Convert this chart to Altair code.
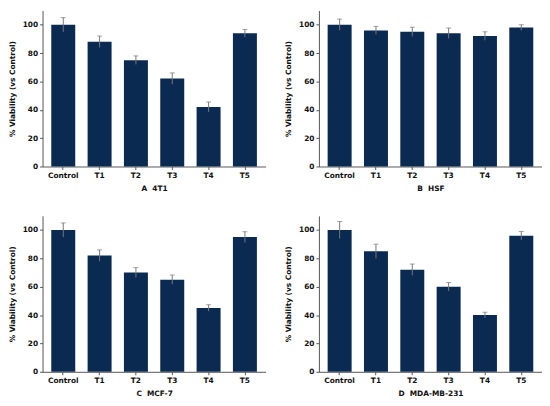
import altair as alt
import pandas as pd

categories = ["Control", "T1", "T2", "T3", "T4", "T5"]
panel_titles = ["A  4T1", "B  HSF", "C  MCF-7", "D  MDA-MB-231"]

viab_4t1 = [100, 88, 75, 62, 42, 94]
err_4t1 = [5, 4, 3, 4, 3.5, 2.7]
viab_hsf = [100, 96, 95, 94, 92, 98]
err_hsf = [4, 2.8, 3.2, 3.7, 3, 2]
viab_mcf7 = [100, 82, 70, 65, 45, 95]
err_mcf7 = [5, 4, 3.5, 3.3, 2.3, 3.8]
viab_mda = [100, 85, 72, 60, 40, 96]
err_mda = [6, 5, 4, 3, 2, 3]

series = [(viab_4t1, err_4t1), (viab_hsf, err_hsf), (viab_mcf7, err_mcf7), (viab_mda, err_mda)]

BAR = "#0b2a52"
FONT = "DejaVu Sans"


def panel(title, vals, errs):
    df = pd.DataFrame({
        "cat": categories,
        "v": vals,
        "lo": [v - e for v, e in zip(vals, errs)],
        "hi": [v + e for v, e in zip(vals, errs)],
    })
    xaxis = alt.Axis(labelAngle=0, ticks=True, tickSize=3, domainColor="#555",
                     tickColor="#555", labelPadding=2, titlePadding=6)
    yaxis = alt.Axis(values=[0, 20, 40, 60, 80, 100], grid=False, tickSize=3,
                     domainColor="#555", tickColor="#555", labelPadding=2,
                     titlePadding=6, labelOverlap=False)
    xscale = alt.Scale(paddingInner=0.34, paddingOuter=0.24)
    yscale = alt.Scale(domain=[0, 110], nice=False)
    xt = title.replace(" ", "\u00a0")
    yt = "% Viability (vs Control)"
    base = alt.Chart(df)
    bars = base.mark_bar(color=BAR).encode(
        x=alt.X("cat:N", sort=categories, title=xt, scale=xscale, axis=xaxis),
        y=alt.Y("v:Q", title=yt, scale=yscale, axis=yaxis))
    rules = base.mark_rule(color="#777777", strokeWidth=1).encode(
        x=alt.X("cat:N", sort=categories, title=xt, scale=xscale, axis=xaxis),
        y=alt.Y("lo:Q", title=yt, scale=yscale, axis=yaxis), y2="hi:Q")
    caps = base.mark_tick(color="#777777", thickness=1, size=5, orient="horizontal").encode(
        x=alt.X("cat:N", sort=categories, title=xt, scale=xscale, axis=xaxis),
        y=alt.Y("hi:Q", title=yt, scale=yscale, axis=yaxis))
    return alt.layer(bars, rules, caps).properties(width=226, height=158)


panels = [panel(t, v, e) for t, (v, e) in zip(panel_titles, series)]

chart = alt.vconcat(
    alt.hconcat(panels[0], panels[1], spacing=19),
    alt.hconcat(panels[2], panels[3], spacing=19),
    spacing=24,
).properties(padding=0).configure_view(stroke=None).configure_axis(
    labelFont=FONT, titleFont=FONT, labelFontWeight="bold", titleFontWeight="bold",
    labelFontSize=7.5, titleFontSize=7.5, labelColor="#111", titleColor="#111",
    labelOverlap=False,
)

chart.save("out.html", embed_options={"renderer": "svg", "actions": False})
